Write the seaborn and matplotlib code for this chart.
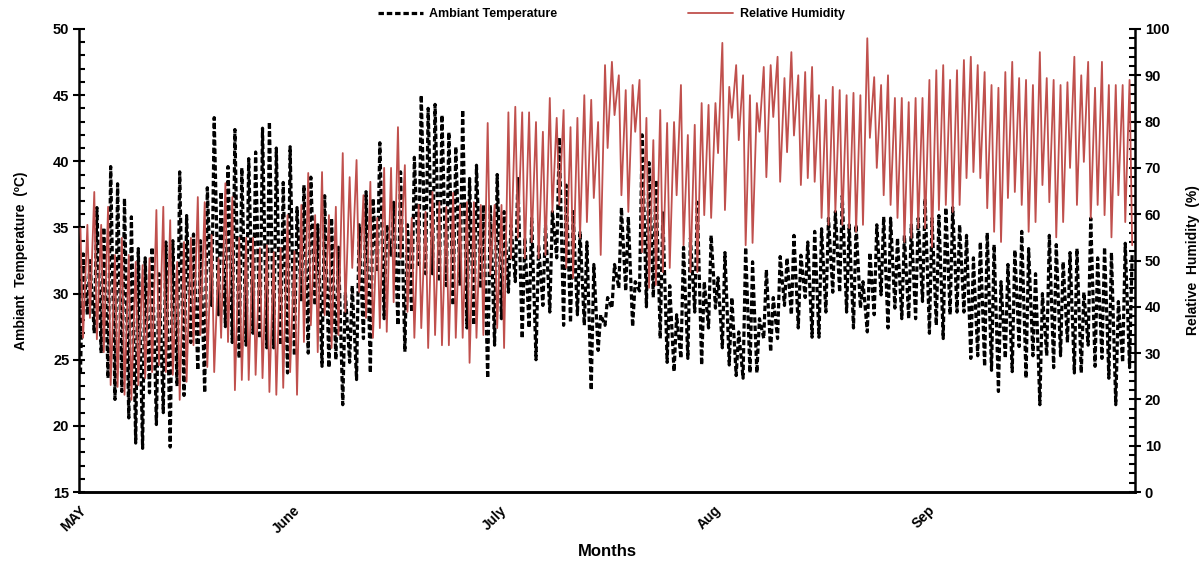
import matplotlib
matplotlib.use("Agg")
import matplotlib.pyplot as plt
import numpy as np
import pandas as pd
import seaborn as sns
from matplotlib.ticker import MultipleLocator
from matplotlib.lines import Line2D

# Daily extremes, 1 May - 30 Sep
temp_max = [
    33.0, 32.5, 36.5, 35.0, 39.6, 38.3, 37.2, 35.8, 33.4, 32.7, 33.5, 31.5, 33.9,
    34.0, 39.2, 35.9, 34.5, 34.0, 38.0, 43.3, 37.7, 39.6, 42.4, 39.5, 40.2, 40.7,
    42.5, 43.0, 41.0, 38.4, 41.1, 36.5, 38.2, 38.8, 35.2, 37.4, 35.7, 33.5, 30.1,
    30.6, 35.2, 37.7, 37.2, 41.4, 35.2, 36.9, 39.2, 35.2, 40.3, 45.0, 44.0, 44.3,
    43.5, 42.2, 41.1, 43.9, 38.7, 39.7, 36.7, 36.7, 39.0, 36.2, 35.2, 38.7, 34.2,
    35.7, 33.7, 35.2, 36.2, 41.8, 38.2, 36.2, 34.7, 33.9, 32.2, 28.4, 29.7, 32.2,
    36.5, 35.8, 30.9, 42.0, 39.9, 38.6, 36.1, 30.6, 28.4, 33.5, 34.2, 36.9, 30.9,
    34.4, 31.2, 33.1, 29.7, 27.1, 33.5, 32.4, 28.1, 31.8, 29.7, 32.8, 32.7, 34.4,
    32.9, 33.9, 34.7, 34.9, 35.7, 36.2, 37.4, 35.2, 35.2, 30.9, 33.1, 35.2, 35.8,
    35.7, 34.2, 34.4, 35.2, 35.7, 37.2, 35.7, 35.9, 36.5, 36.5, 35.2, 34.4, 32.7,
    33.9, 34.6, 33.7, 30.9, 32.2, 33.3, 34.7, 33.4, 31.5, 30.0, 34.4, 33.7, 32.4,
    33.1, 33.4, 30.1, 35.7, 32.7, 33.5, 33.1, 29.4, 33.8, 33.1,
]
temp_min = [
    24.0, 28.4, 27.0, 25.5, 23.6, 22.0, 22.6, 20.6, 18.7, 18.3, 22.5, 20.1, 21.0,
    18.4, 23.0, 22.3, 26.3, 24.2, 22.5, 29.1, 28.4, 27.5, 26.3, 25.1, 26.1, 27.0,
    26.6, 25.9, 25.9, 26.1, 24.0, 25.3, 29.4, 25.5, 29.1, 24.5, 24.4, 25.0, 21.6,
    24.8, 23.5, 26.6, 24.0, 31.6, 28.1, 32.9, 27.6, 25.6, 28.6, 32.2, 31.5, 31.5,
    30.9, 30.6, 29.1, 30.6, 27.4, 27.6, 30.4, 23.6, 26.1, 28.1, 30.1, 30.9, 26.6,
    27.4, 25.0, 29.1, 28.6, 32.7, 27.6, 27.8, 28.4, 27.6, 22.7, 25.7, 27.6, 28.9,
    30.4, 30.2, 27.5, 30.2, 29.0, 29.7, 26.6, 24.8, 24.1, 25.1, 25.1, 28.6, 24.6,
    27.4, 28.9, 25.9, 24.6, 23.8, 23.6, 24.0, 24.0, 26.6, 25.6, 26.6, 29.1, 28.4,
    27.4, 29.7, 26.7, 26.7, 28.6, 30.1, 30.1, 28.6, 27.4, 28.9, 27.1, 28.4, 29.9,
    27.4, 28.9, 28.1, 28.1, 28.1, 29.4, 27.0, 27.6, 26.6, 28.4, 28.6, 28.6, 25.1,
    25.3, 24.5, 24.2, 22.6, 25.1, 24.1, 26.0, 23.6, 25.3, 21.6, 25.3, 24.4, 25.3,
    26.3, 24.0, 24.0, 26.1, 24.5, 25.1, 23.6, 21.6, 24.8, 24.4,
]
rh_max = [
    57.0, 57.7, 64.8, 57.7, 61.6, 51.2, 54.9, 51.2, 49.7, 49.0, 50.5, 60.9, 61.6,
    58.7, 49.7, 54.0, 54.9, 63.7, 62.6, 55.5, 50.5, 66.7, 63.7, 54.9, 54.9, 54.9,
    52.7, 53.3, 51.8, 52.7, 59.8, 52.0, 62.0, 68.9, 59.8, 69.1, 59.8, 61.6, 73.2,
    68.0, 71.7, 64.1, 67.0, 59.2, 70.0, 70.0, 78.8, 70.6, 59.2, 62.0, 60.5, 64.8,
    62.6, 61.6, 64.6, 62.0, 62.6, 62.6, 62.0, 79.7, 62.0, 62.0, 82.0, 83.2, 82.0,
    82.0, 79.9, 77.8, 85.1, 80.8, 82.5, 78.8, 80.8, 85.7, 84.7, 79.9, 92.2, 92.9,
    90.0, 86.8, 87.9, 89.0, 80.8, 76.0, 82.5, 79.7, 79.9, 87.9, 77.1, 79.3, 84.0,
    83.6, 84.0, 97.0, 87.5, 92.2, 90.0, 85.7, 84.0, 91.8, 92.2, 94.0, 89.4, 95.0,
    90.0, 90.7, 91.8, 85.7, 84.7, 87.5, 86.8, 85.7, 86.2, 85.7, 98.0, 89.6, 87.9,
    90.0, 85.1, 85.1, 84.2, 85.1, 85.1, 89.0, 91.1, 92.2, 89.0, 91.1, 93.3, 94.0,
    92.2, 90.7, 87.9, 87.3, 90.7, 92.9, 89.4, 89.0, 87.9, 95.0, 89.4, 89.0, 87.9,
    88.5, 94.0, 90.0, 92.9, 87.3, 92.9, 87.9, 87.9, 87.9, 89.0,
]
rh_min = [
    33.3, 37.6, 33.0, 30.2, 23.1, 22.7, 21.0, 19.9, 23.1, 24.6, 25.9, 27.4, 25.9,
    25.3, 19.9, 23.8, 31.7, 33.9, 27.0, 25.9, 33.3, 32.4, 22.0, 24.2, 24.2, 25.3,
    24.6, 21.6, 21.0, 22.5, 25.9, 21.0, 32.4, 36.0, 30.2, 38.2, 31.1, 33.9, 38.9,
    48.4, 43.2, 37.6, 33.3, 35.4, 34.6, 41.0, 50.5, 38.9, 33.3, 35.4, 31.1, 33.9,
    31.7, 31.7, 33.3, 33.3, 27.9, 33.3, 33.9, 46.9, 35.4, 31.1, 50.5, 54.9, 50.5,
    54.0, 50.5, 51.2, 60.5, 62.0, 48.4, 46.2, 54.9, 58.3, 63.5, 51.2, 74.3, 81.4,
    64.1, 60.5, 77.8, 51.8, 44.1, 44.7, 47.5, 48.4, 64.1, 53.3, 47.5, 47.5, 59.8,
    59.2, 73.2, 60.9, 80.8, 76.0, 53.3, 53.8, 77.8, 68.0, 81.0, 67.0, 73.4, 77.0,
    66.3, 67.8, 67.0, 59.2, 57.7, 60.5, 57.7, 57.0, 56.2, 57.7, 76.5, 70.0, 64.1,
    62.0, 59.2, 54.0, 54.9, 57.0, 57.0, 52.9, 60.9, 62.0, 60.5, 62.0, 67.8, 69.1,
    67.8, 61.3, 56.2, 54.0, 63.5, 64.8, 62.0, 56.2, 58.3, 66.3, 62.6, 55.0, 58.3,
    70.0, 62.0, 71.3, 59.2, 62.0, 59.8, 55.0, 64.1, 58.3, 53.3,
]
month_starts = ["2019-05-01", "2019-06-01", "2019-07-01", "2019-08-01", "2019-09-01"]
month_labels = ["MAY", "June", "July", "Aug", "Sep"]

# Early-morning / afternoon readings for each day
days = pd.date_range("2019-05-01", periods=len(temp_max), freq="D")
morning = days + pd.Timedelta(hours=5)
afternoon = days + pd.Timedelta(hours=14)

temp_df = pd.DataFrame({
    "time": np.ravel(np.column_stack([morning, afternoon])),
    "value": np.ravel(np.column_stack([temp_min, temp_max])),
})
rh_df = pd.DataFrame({
    "time": np.ravel(np.column_stack([morning, afternoon])),
    "value": np.ravel(np.column_stack([rh_max, rh_min])),
})
temp_df["time"] = pd.to_datetime(temp_df["time"])
rh_df["time"] = pd.to_datetime(rh_df["time"])

sns.set_theme(style="white")
plt.rcParams["font.family"] = ["Liberation Sans", "DejaVu Sans"]
plt.rcParams["font.weight"] = "bold"
for key in ("text.color", "axes.labelcolor", "xtick.color", "ytick.color", "axes.edgecolor"):
    plt.rcParams[key] = "black"

RED = "#C0504D"
fig = plt.figure(figsize=(12.03, 5.63), dpi=100)
ax = fig.add_axes([0.0657, 0.1261, 0.8778, 0.8224])
ax2 = ax.twinx()

temp_dash = (0, (1.7, 0.9))
sns.lineplot(data=temp_df, x="time", y="value", ax=ax, color="black",
             linewidth=2.3, linestyle=temp_dash, estimator=None, sort=False)
sns.lineplot(data=rh_df, x="time", y="value", ax=ax2, color=RED,
             linewidth=1.3, estimator=None, sort=False)

ax.set_xlim(pd.Timestamp("2019-05-01"), pd.Timestamp("2019-10-01"))
ax.set_ylim(15, 50)
ax2.set_ylim(0, 100)

ax.set_yticks(np.arange(15, 51, 5))
ax.yaxis.set_minor_locator(MultipleLocator(1))
ax2.set_yticks(np.arange(0, 101, 10))
ax2.yaxis.set_minor_locator(MultipleLocator(2))

ax.set_xticks(pd.to_datetime(month_starts))
ax.set_xticklabels(month_labels, rotation=45, ha="right", rotation_mode="anchor",
                   fontsize=10, fontweight="bold")
ax.tick_params(axis="x", which="major", direction="out", length=4, width=1.5, pad=4)

ax.tick_params(axis="y", which="major", direction="inout", length=8, width=1.5,
               labelsize=10.5, pad=3)
ax.tick_params(axis="y", which="minor", direction="in", length=4, width=1.5, left=True)
ax2.tick_params(axis="y", which="major", direction="inout", length=8, width=1.5,
                labelsize=10.5, pad=3)
ax2.tick_params(axis="y", which="minor", direction="in", length=4, width=1.5, right=True)
for lab in ax.get_yticklabels() + ax2.get_yticklabels():
    lab.set_fontweight("bold")

for a in (ax, ax2):
    a.spines["top"].set_visible(False)
    for s in ("left", "right", "bottom"):
        a.spines[s].set_linewidth(1.8)
        a.spines[s].set_color("black")
ax2.spines["left"].set_visible(False)
ax.spines["right"].set_visible(False)

ax.set_xlabel("Months", fontsize=12, fontweight="bold", labelpad=6)
ax.set_ylabel("Ambiant  Temperature  (ºC)", fontsize=10, fontweight="bold", labelpad=18)
ax2.set_ylabel("Relative  Humidity  (%)", fontsize=10, fontweight="bold", labelpad=12)

handles = [
    Line2D([], [], color="black", linewidth=2.3, linestyle=temp_dash),
    Line2D([], [], color=RED, linewidth=1.3),
]
fig.legend(handles, ["Ambiant Temperature", "Relative Humidity"], loc="upper center",
           bbox_to_anchor=(0.508, 1.005), ncol=2, frameon=False, handlelength=3.6,
           columnspacing=10.5, handletextpad=0.5,
           prop={"size": 9, "weight": "bold"})

fig.savefig("out.png", dpi=100, facecolor="white")
